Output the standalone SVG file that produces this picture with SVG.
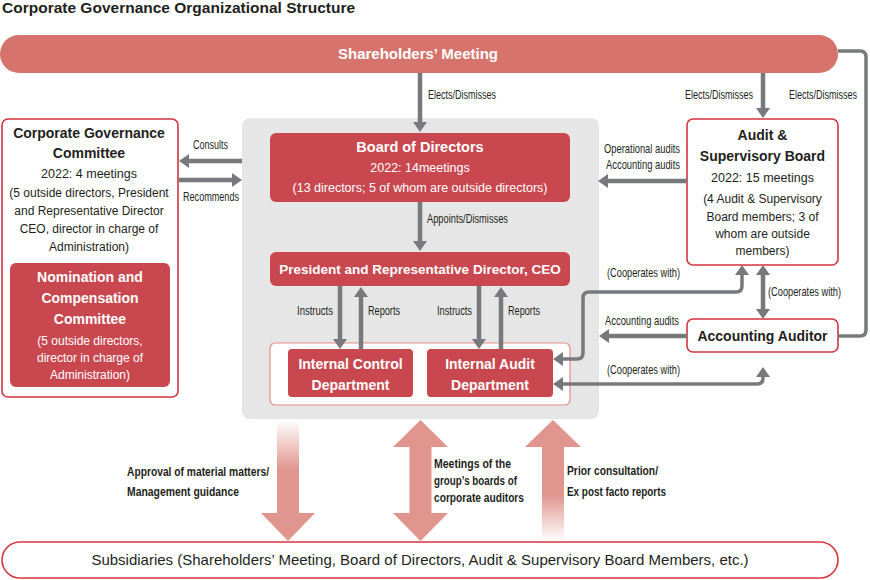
<svg xmlns="http://www.w3.org/2000/svg" width="870" height="580" viewBox="0 0 870 580">
<defs>
<style>
.t{font-family:"Liberation Sans",Arial,sans-serif;fill:#231f20}
.w{fill:#fff}
.b{font-weight:bold}
.n{font-family:"Liberation Sans",Arial,sans-serif;fill:#231f20;font-size:13px}
.nb{font-family:"Liberation Sans",Arial,sans-serif;fill:#231f20;font-size:13.5px;font-weight:bold}
.ln{fill:none;stroke:#77797c;stroke-width:4.5}
.ln2{fill:none;stroke:#77797c;stroke-width:3.5}
.red{fill:#c9474f}
.wb{fill:#fff;stroke:#d3343c;stroke-width:1.6}
</style>
<marker id="ah" viewBox="0 0 10 14" refX="3" refY="7" markerWidth="10" markerHeight="14" markerUnits="userSpaceOnUse" orient="auto-start-reverse">
<path d="M0,0 L10,7 L0,14 z" fill="#77797c"/>
</marker>
<linearGradient id="gDown" x1="0" y1="420" x2="0" y2="470" gradientUnits="userSpaceOnUse">
<stop offset="0" stop-color="#e0958e" stop-opacity="0"/>
<stop offset="1" stop-color="#e0958e"/>
</linearGradient>
<linearGradient id="gUp" x1="0" y1="541" x2="0" y2="495" gradientUnits="userSpaceOnUse">
<stop offset="0" stop-color="#e0958e" stop-opacity="0"/>
<stop offset="1" stop-color="#e0958e"/>
</linearGradient>
</defs>

<text class="t" x="2" y="13" font-size="15.5" font-weight="bold">Corporate Governance Organizational Structure</text>

<rect x="242" y="118" width="357" height="301" rx="8" fill="#e6e6e6"/>

<g id="shareholders">
<rect x="0" y="35" width="838" height="38" rx="19" fill="#d6736c"/>
<text class="t w b" x="418" y="59" font-size="15" text-anchor="middle">Shareholders’ Meeting</text>
</g>

<g id="cgc">
<rect class="wb" x="2" y="119" width="176" height="278" rx="6"/>
<text class="t b" x="89" y="138" font-size="14" text-anchor="middle">Corporate Governance</text>
<text class="t b" x="89" y="158" font-size="14" text-anchor="middle">Committee</text>
<text class="t" x="89" y="178" font-size="12.5" text-anchor="middle">2022: 4 meetings</text>
<text class="t" x="89" y="197" font-size="12" text-anchor="middle">(5 outside directors, President</text>
<text class="t" x="89" y="215" font-size="12" text-anchor="middle">and Representative Director</text>
<text class="t" x="89" y="233" font-size="12" text-anchor="middle">CEO, director in charge of</text>
<text class="t" x="89" y="251" font-size="12" text-anchor="middle">Administration)</text>
</g>

<g id="nomination">
<rect class="red" x="10" y="263" width="160" height="124" rx="6"/>
<text class="t w b" x="90" y="282" font-size="14" text-anchor="middle">Nomination and</text>
<text class="t w b" x="90" y="303" font-size="14" text-anchor="middle">Compensation</text>
<text class="t w b" x="90" y="324" font-size="14" text-anchor="middle">Committee</text>
<text class="t w" x="90" y="345" font-size="12" text-anchor="middle">(5 outside directors,</text>
<text class="t w" x="90" y="362" font-size="12" text-anchor="middle">director in charge of</text>
<text class="t w" x="90" y="379" font-size="12" text-anchor="middle">Administration)</text>
</g>

<g id="board">
<rect class="red" x="270" y="133" width="300" height="69" rx="6"/>
<text class="t w b" x="420" y="152" font-size="14.5" text-anchor="middle">Board of Directors</text>
<text class="t w" x="420" y="172" font-size="12.5" text-anchor="middle">2022: 14meetings</text>
<text class="t w" x="420" y="192" font-size="12.5" text-anchor="middle">(13 directors; 5 of whom are outside directors)</text>
</g>

<g id="president">
<rect class="red" x="270" y="252" width="300" height="34" rx="6"/>
<text class="t w b" x="420" y="274" font-size="13.5" text-anchor="middle">President and Representative Director, CEO</text>
</g>

<g id="departments">
<rect x="270" y="343" width="300" height="62" rx="5" fill="#fff" stroke="#e58c86" stroke-width="1.2"/>
</g>
<g id="internal-control">
<rect class="red" x="288" y="349" width="125" height="48" rx="4"/>
<text class="t w b" x="350.5" y="369" font-size="14" text-anchor="middle">Internal Control</text>
<text class="t w b" x="350.5" y="390" font-size="14" text-anchor="middle">Department</text>
</g>
<g id="internal-audit">
<rect class="red" x="427" y="349" width="126" height="48" rx="4"/>
<text class="t w b" x="490" y="369" font-size="14" text-anchor="middle">Internal Audit</text>
<text class="t w b" x="490" y="390" font-size="14" text-anchor="middle">Department</text>
</g>

<g id="asb">
<rect class="wb" x="687" y="119" width="151" height="146" rx="6"/>
<text class="t b" x="762.5" y="140" font-size="14" text-anchor="middle">Audit &amp;</text>
<text class="t b" x="762.5" y="161" font-size="14" text-anchor="middle">Supervisory Board</text>
<text class="t" x="762.5" y="182" font-size="12.5" text-anchor="middle">2022: 15 meetings</text>
<text class="t" x="762.5" y="203" font-size="12" text-anchor="middle">(4 Audit &amp; Supervisory</text>
<text class="t" x="762.5" y="221" font-size="12" text-anchor="middle">Board members; 3 of</text>
<text class="t" x="762.5" y="238" font-size="12" text-anchor="middle">whom are outside</text>
<text class="t" x="762.5" y="255" font-size="12" text-anchor="middle">members)</text>
</g>

<g id="accounting-auditor">
<rect class="wb" x="687" y="319" width="151" height="33" rx="6"/>
<text class="t b" x="762.5" y="341" font-size="14" text-anchor="middle">Accounting Auditor</text>
</g>

<g id="subsidiaries">
<rect x="2" y="542" width="836" height="36" rx="18" fill="#fff" stroke="#d3343c" stroke-width="1.6"/>
<text class="t" x="420" y="565" font-size="15" text-anchor="middle">Subsidiaries (Shareholders’ Meeting, Board of Directors, Audit &amp; Supervisory Board Members, etc.)</text>
</g>

<g id="connectors">
<path class="ln" d="M420,73 V125" marker-end="url(#ah)"/>
<path class="ln" d="M763,73 V111" marker-end="url(#ah)"/>
<path class="ln2" d="M838,51 H860 Q866,51 866,57 V330 Q866,336 860,336 H838" stroke-width="3"/>
<path class="ln" d="M420,202 V244" marker-end="url(#ah)"/>
<path class="ln" d="M340,286 V342" marker-end="url(#ah)"/>
<path class="ln" d="M361,349 V294" marker-end="url(#ah)"/>
<path class="ln" d="M479,286 V342" marker-end="url(#ah)"/>
<path class="ln" d="M501,349 V294" marker-end="url(#ah)"/>
<path class="ln" d="M242,161 H186" marker-end="url(#ah)"/>
<path class="ln" d="M179,180 H235" marker-end="url(#ah)"/>
<path class="ln" d="M687,181 H605" marker-end="url(#ah)"/>
<path class="ln" d="M687,336 H606" marker-end="url(#ah)"/>
<path class="ln" d="M763,272 V312" marker-start="url(#ah)" marker-end="url(#ah)"/>
<path class="ln2" d="M742,272 V286 Q742,292 736,292 H589 Q583,292 583,298 V353 Q583,359 577,359 H560" marker-start="url(#ah)" marker-end="url(#ah)"/>
<path class="ln2" d="M560,384 H757 Q763,384 763,378 V374" marker-start="url(#ah)" marker-end="url(#ah)"/>

<polygon points="277,420 299,420 299,513 315,513 288,541 261,513 277,513" fill="url(#gDown)"/>
<polygon points="420.5,420 448,447 431.5,447 431.5,513 448,513 420.5,541 393,513 409.5,513 409.5,447 393,447" fill="#e0958e"/>
<polygon points="553,420 581,447 564,447 564,541 542,541 542,447 525,447" fill="url(#gUp)"/>
</g>

<g id="labels">
<text class="n" x="428" y="99" textLength="68" lengthAdjust="spacingAndGlyphs">Elects/Dismisses</text>
<text class="n" x="685" y="99" textLength="68" lengthAdjust="spacingAndGlyphs">Elects/Dismisses</text>
<text class="n" x="789" y="99" textLength="68" lengthAdjust="spacingAndGlyphs">Elects/Dismisses</text>
<text class="n" x="427" y="223" textLength="81" lengthAdjust="spacingAndGlyphs">Appoints/Dismisses</text>
<text class="n" x="297" y="315" textLength="36" lengthAdjust="spacingAndGlyphs">Instructs</text>
<text class="n" x="368" y="315" textLength="32" lengthAdjust="spacingAndGlyphs">Reports</text>
<text class="n" x="437" y="315" textLength="35" lengthAdjust="spacingAndGlyphs">Instructs</text>
<text class="n" x="508" y="315" textLength="32" lengthAdjust="spacingAndGlyphs">Reports</text>
<text class="n" x="193" y="149" textLength="35" lengthAdjust="spacingAndGlyphs">Consults</text>
<text class="n" x="183" y="201" textLength="56" lengthAdjust="spacingAndGlyphs">Recommends</text>
<text class="n" x="604" y="153" textLength="76" lengthAdjust="spacingAndGlyphs">Operational audits</text>
<text class="n" x="606" y="169" textLength="74" lengthAdjust="spacingAndGlyphs">Accounting audits</text>
<text class="n" x="607" y="277" textLength="73" lengthAdjust="spacingAndGlyphs">(Cooperates with)</text>
<text class="n" x="768" y="296" textLength="73" lengthAdjust="spacingAndGlyphs">(Cooperates with)</text>
<text class="n" x="605" y="325" textLength="74" lengthAdjust="spacingAndGlyphs">Accounting audits</text>
<text class="n" x="607" y="374" textLength="73" lengthAdjust="spacingAndGlyphs">(Cooperates with)</text>
<text class="nb" x="127" y="476" textLength="142" lengthAdjust="spacingAndGlyphs">Approval of material matters/</text>
<text class="nb" x="127" y="496" textLength="112" lengthAdjust="spacingAndGlyphs">Management guidance</text>
<text class="nb" x="434" y="468" textLength="77" lengthAdjust="spacingAndGlyphs">Meetings of the</text>
<text class="nb" x="434" y="485" textLength="83" lengthAdjust="spacingAndGlyphs">group’s boards of</text>
<text class="nb" x="434" y="502" textLength="90" lengthAdjust="spacingAndGlyphs">corporate auditors</text>
<text class="nb" x="567" y="475" textLength="91" lengthAdjust="spacingAndGlyphs">Prior consultation/</text>
<text class="nb" x="567" y="496" textLength="99" lengthAdjust="spacingAndGlyphs">Ex post facto reports</text>
</g>
</svg>
